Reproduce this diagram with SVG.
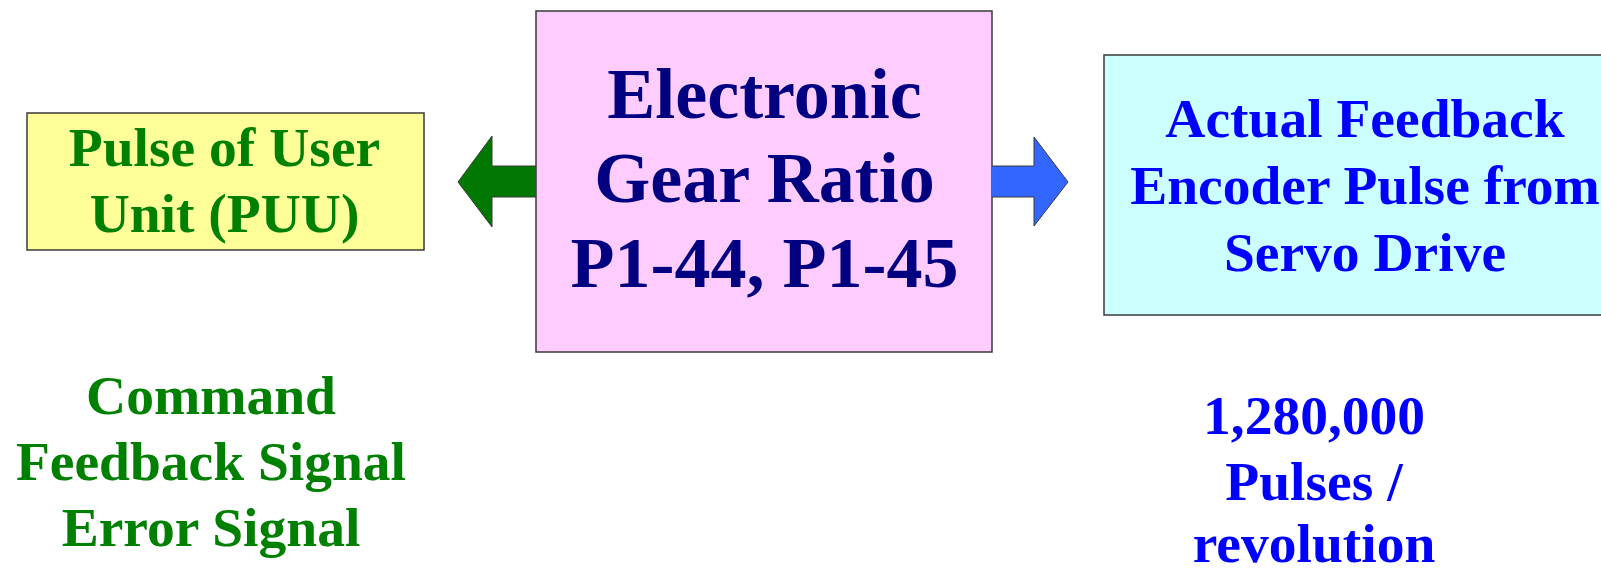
<svg xmlns="http://www.w3.org/2000/svg" width="1601" height="569" viewBox="0 0 1601 569">
<style>
text{font-family:"Liberation Serif","Times New Roman",serif;font-weight:bold;text-anchor:middle}
.box{stroke:#3a3a3a;stroke-width:1.5}
.g{fill:#008000}
.b{fill:#0000FF}
.n{fill:#000080}
.t{font-size:55.5px}
.arr{stroke:#3a3a3a;stroke-width:1}
</style>
<rect width="1601" height="569" fill="#ffffff"/>
<g id="puu">
<rect class="box" x="27" y="113" width="397" height="137" fill="#FFFF99"/>
<text class="g t" x="224.5" y="165.5">Pulse of User</text>
<text class="g t" x="224.5" y="231.5">Unit (PUU)</text>
</g>
<g id="gear">
<rect class="box" x="536" y="11" width="456" height="341" fill="#FFCCFF"/>
<text class="n" x="764.5" y="117.5" font-size="72">Electronic</text>
<text class="n" x="764.5" y="202" font-size="72">Gear Ratio</text>
<text class="n" x="764.5" y="287" font-size="72">P1-44, P1-45</text>
</g>
<g id="encoder">
<rect class="box" x="1104" y="55" width="520" height="260" fill="#CCFFFF"/>
<text class="b t" x="1365" y="137">Actual Feedback</text>
<text class="b t" x="1365" y="204">Encoder Pulse from</text>
<text class="b t" x="1365" y="270.5">Servo Drive</text>
</g>
<g id="signals">
<text class="g t" x="211" y="413.5">Command</text>
<text class="g t" x="211" y="479.5">Feedback Signal</text>
<text class="g t" x="211" y="545.5">Error Signal</text>
</g>
<g id="resolution">
<text class="b t" x="1314" y="433.5">1,280,000</text>
<text class="b t" x="1314" y="499.5">Pulses /</text>
<text class="b t" x="1314" y="562">revolution</text>
</g>
<g id="connectors">
<path class="arr" d="M536,166 L492,166 L492,136 L458,182 L492,227 L492,197 L536,197" fill="#007700"/>
<path class="arr" d="M992,166 L1034,166 L1034,137 L1068,182 L1034,226 L1034,197 L992,197" fill="#3366FF"/>
</g>
</svg>
